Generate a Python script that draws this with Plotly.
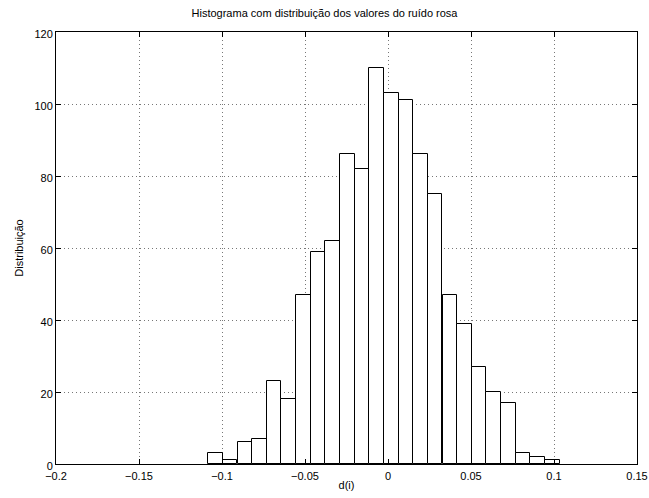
import plotly.graph_objects as go

# Histogram bin centers (d(i)) and counts
bin_centers = [-0.1039, -0.0951, -0.0862, -0.0774, -0.0686, -0.0598, -0.0510, -0.0421,
               -0.0333, -0.0245, -0.0157, -0.0068, 0.0020, 0.0108, 0.0196, 0.0284,
               0.0373, 0.0461, 0.0549, 0.0637, 0.0726, 0.0814, 0.0902, 0.0990]
counts = [3, 1, 6, 7, 23, 18, 47, 59, 62, 86, 82, 110, 103, 101, 86, 75,
          47, 39, 27, 20, 17, 3, 2, 1]
bin_width = 0.008824

x_ticks = [-0.2, -0.15, -0.1, -0.05, 0, 0.05, 0.1, 0.15]
y_ticks = [0, 20, 40, 60, 80, 100, 120]

title_text = "Histograma com distribuição dos valores do ruído rosa"
x_label = "d(i)"
y_label = "Distribuição"

font_family = "Liberation Sans, Arial, Helvetica, sans-serif"

fig = go.Figure()
fig.add_trace(go.Bar(
    x=bin_centers, y=counts, width=bin_width,
    marker=dict(color="white", line=dict(color="black", width=1)),
    showlegend=False,
))

axis_common = dict(
    showline=True, linecolor="black", linewidth=1, mirror="all",
    ticks="inside", ticklen=5, tickcolor="black", tickwidth=1,
    showgrid=True, gridcolor="#777777", griddash="1px,3px", gridwidth=1,
    zeroline=False, automargin=False,
    tickfont=dict(family=font_family, size=11, color="black"),
)

fig.update_layout(
    width=649, height=498,
    margin=dict(l=56, r=12, t=32, b=34, autoexpand=False),
    paper_bgcolor="white", plot_bgcolor="white",
    font=dict(family=font_family, size=11, color="black"),
    title=dict(text=title_text, x=0.5, xanchor="center", y=1 - 13 / 498, yanchor="middle",
               font=dict(family=font_family, size=11, color="black")),
    xaxis=dict(range=[-0.2, 0.15], tickvals=x_ticks,
               ticktext=[("−" + str(abs(v))) if v < 0 else str(v) for v in x_ticks],
               ticklabelstandoff=2,
               title=dict(text=x_label, standoff=0, font=dict(size=11)), **axis_common),
    yaxis=dict(range=[0, 120], tickvals=y_ticks, ticklabelshift=2,
               title=dict(text=y_label, standoff=8, font=dict(size=11)), **axis_common),
    bargap=0,
)

fig.write_html("out.html")
